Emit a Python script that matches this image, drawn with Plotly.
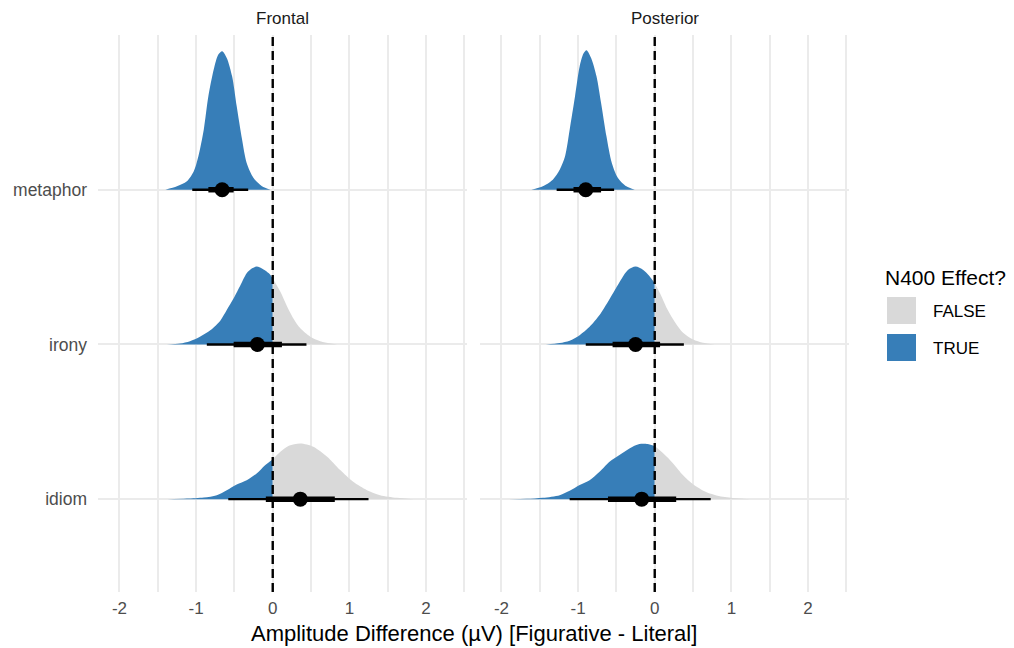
import numpy as np
import plotly.graph_objects as go

# ---------------- data ----------------
regions = ["Frontal", "Posterior"]
conditions = ["idiom", "irony", "metaphor"]
cond_pos = [1, 2, 3]
x_tick_vals = [-2, -1, 0, 1, 2]
x_tick_text = ["-2", "-1", "0", "1", "2"]
legend_labels = ["FALSE", "TRUE"]

# posterior density profiles: x (µV) and scaled height (category units)
frontal_metaphor_x = [-1.40, -1.25, -1.12, -1.03, -0.97, -0.90, -0.84, -0.77, -0.71, -0.66,
                      -0.60, -0.53, -0.47, -0.40, -0.34, -0.25, -0.14, -0.03]
frontal_metaphor_h = [0, 0.022, 0.054, 0.119, 0.216, 0.388, 0.604, 0.777, 0.874, 0.895,
                      0.852, 0.733, 0.539, 0.324, 0.173, 0.076, 0.022, 0]

posterior_metaphor_x = [-1.61, -1.46, -1.33, -1.24, -1.17, -1.11, -1.04, -0.98, -0.93, -0.89,
                        -0.83, -0.76, -0.70, -0.63, -0.56, -0.48, -0.37, -0.26]
posterior_metaphor_h = [0, 0.022, 0.065, 0.129, 0.216, 0.388, 0.604, 0.796, 0.880, 0.902,
                        0.852, 0.733, 0.561, 0.345, 0.173, 0.076, 0.022, 0]

frontal_irony_x = [-1.38, -1.21, -1.08, -0.95, -0.81, -0.68, -0.60, -0.51, -0.42, -0.34, -0.27,
                   -0.21, -0.12, -0.05, 0.0, 0.10, 0.18, 0.27, 0.36, 0.49, 0.62, 0.84]
frontal_irony_h = [0, 0.006, 0.021, 0.050, 0.093, 0.157, 0.222, 0.298, 0.384, 0.460, 0.492,
                   0.503, 0.485, 0.460, 0.427, 0.341, 0.254, 0.168, 0.104, 0.050, 0.021, 0]

posterior_irony_x = [-1.42, -1.24, -1.11, -0.98, -0.85, -0.72, -0.61, -0.52, -0.43, -0.35, -0.25,
                     -0.15, -0.07, 0.0, 0.09, 0.17, 0.26, 0.37, 0.50, 0.63, 0.78]
posterior_irony_h = [0, 0.009, 0.024, 0.060, 0.114, 0.190, 0.276, 0.352, 0.427, 0.481, 0.503,
                     0.481, 0.442, 0.395, 0.309, 0.222, 0.147, 0.076, 0.032, 0.011, 0]

frontal_idiom_x = [-1.37, -1.12, -0.90, -0.73, -0.60, -0.47, -0.34, -0.21, -0.10, 0.0, 0.10,
                   0.21, 0.36, 0.53, 0.71, 0.88, 1.05, 1.23, 1.40, 1.62, 1.84]
frontal_idiom_h = [0, 0.004, 0.011, 0.026, 0.058, 0.095, 0.123, 0.166, 0.220, 0.257, 0.306,
                   0.345, 0.360, 0.339, 0.274, 0.188, 0.112, 0.058, 0.026, 0.009, 0]

posterior_idiom_x = [-1.90, -1.67, -1.46, -1.24, -1.11, -0.98, -0.85, -0.72, -0.59, -0.46, -0.33,
                     -0.20, -0.09, 0.0, 0.11, 0.24, 0.37, 0.50, 0.67, 0.89, 1.24]
posterior_idiom_h = [0, 0.002, 0.009, 0.026, 0.054, 0.091, 0.123, 0.177, 0.242, 0.285, 0.328,
                     0.356, 0.356, 0.343, 0.296, 0.231, 0.155, 0.097, 0.047, 0.015, 0]

# point + interval summaries (order: idiom, irony, metaphor)
frontal_median = [0.36, -0.20, -0.66]
frontal_q66_lo = [-0.09, -0.51, -0.84]
frontal_q66_hi = [0.81, 0.12, -0.51]
frontal_q95_lo = [-0.58, -0.86, -1.05]
frontal_q95_hi = [1.25, 0.44, -0.32]

posterior_median = [-0.17, -0.25, -0.90]
posterior_q66_lo = [-0.61, -0.55, -1.06]
posterior_q66_hi = [0.28, 0.07, -0.70]
posterior_q95_lo = [-1.11, -0.90, -1.28]
posterior_q95_hi = [0.73, 0.38, -0.53]

# ---------------- styling ----------------
BLUE = "#377EB8"
GREY = "#D9D9D9"
GRID = "#EBEBEB"
TICK = "#4D4D4D"
FONT = "Liberation Sans, Arial, sans-serif"

W, H = 1014, 648
L, R, T, B = 98, 849, 35, 592
PW, PH = R - L, B - T
dom1 = [0, (467 - L) / PW]
dom2 = [(480 - L) / PW, 1]

densities = {
    "Frontal": [(frontal_idiom_x, frontal_idiom_h), (frontal_irony_x, frontal_irony_h),
                (frontal_metaphor_x, frontal_metaphor_h)],
    "Posterior": [(posterior_idiom_x, posterior_idiom_h), (posterior_irony_x, posterior_irony_h),
                  (posterior_metaphor_x, posterior_metaphor_h)],
}
intervals = {
    "Frontal": (frontal_median, frontal_q66_lo, frontal_q66_hi, frontal_q95_lo, frontal_q95_hi),
    "Posterior": (posterior_median, posterior_q66_lo, posterior_q66_hi, posterior_q95_lo,
                  posterior_q95_hi),
}

fig = go.Figure()


def add_fill(xs, hs, base, color, xa, ya):
    if len(xs) < 2:
        return
    fig.add_trace(go.Scatter(x=[xs[0], xs[-1]], y=[base, base], mode="lines",
                             line=dict(width=0, color=color), showlegend=False,
                             hoverinfo="skip", xaxis=xa, yaxis=ya))
    fig.add_trace(go.Scatter(x=xs, y=[base + h for h in hs], mode="lines",
                             line=dict(width=0, color=color, shape="spline", smoothing=0.8),
                             fill="tonexty", fillcolor=color, showlegend=False,
                             hoverinfo="skip", xaxis=xa, yaxis=ya))


for ri, reg in enumerate(regions):
    xa = "x" if ri == 0 else "x2"
    ya = "y" if ri == 0 else "y2"
    for ci, pos in enumerate(cond_pos):
        xs = np.array(densities[reg][ci][0], dtype=float)
        hs = np.array(densities[reg][ci][1], dtype=float)
        if xs.max() > 0 and xs.min() < 0:
            h0 = float(np.interp(0.0, xs, hs))
            neg = xs < 0
            pos_ = xs > 0
            bx = list(xs[neg]) + [0.0]
            bh = list(hs[neg]) + [h0]
            gx = [0.0] + list(xs[pos_])
            gh = [h0] + list(hs[pos_])
        elif xs.max() <= 0:
            bx, bh, gx, gh = list(xs), list(hs), [], []
        else:
            bx, bh, gx, gh = [], [], list(xs), list(hs)
        add_fill(bx, bh, pos, BLUE, xa, ya)
        add_fill(gx, gh, pos, GREY, xa, ya)

    med, lo66, hi66, lo95, hi95 = intervals[reg]
    for ci, pos in enumerate(cond_pos):
        fig.add_trace(go.Scatter(x=[lo95[ci], hi95[ci]], y=[pos, pos], mode="lines",
                                 line=dict(color="black", width=2.4), showlegend=False,
                                 hoverinfo="skip", xaxis=xa, yaxis=ya))
        fig.add_trace(go.Scatter(x=[lo66[ci], hi66[ci]], y=[pos, pos], mode="lines",
                                 line=dict(color="black", width=5.5), showlegend=False,
                                 hoverinfo="skip", xaxis=xa, yaxis=ya))
    fig.add_trace(go.Scatter(x=med, y=cond_pos, mode="markers",
                             marker=dict(color="black", size=15, line=dict(width=0)),
                             showlegend=False, hoverinfo="skip", xaxis=xa, yaxis=ya))

    # dashed reference line at zero
    fig.add_shape(type="line", xref=xa, yref=f"{ya} domain", x0=0, x1=0, y0=0, y1=1,
                  line=dict(color="black", width=2.4, dash="9px,5px"), layer="above")

xcommon = dict(range=[-2.28, 2.535], tickvals=x_tick_vals, ticktext=x_tick_text,
               showgrid=True, gridcolor=GRID, gridwidth=2, zeroline=False, showline=False,
               ticks="", tickfont=dict(family=FONT, size=17, color=TICK),
               ticklabelstandoff=4,
               minor=dict(tickvals=[-2.5, -1.5, -0.5, 0.5, 1.5, 2.5], showgrid=True,
                          gridcolor=GRID, gridwidth=1.6))
ycommon = dict(range=[0.4, 4.0], tickvals=cond_pos, ticktext=conditions, showgrid=True,
               gridcolor=GRID, gridwidth=2, zeroline=False, showline=False, ticks="",
               tickfont=dict(family=FONT, size=17.5, color=TICK))

fig.update_layout(
    width=W, height=H,
    margin=dict(l=L, r=W - R, t=T, b=H - B, autoexpand=False),
    plot_bgcolor="white", paper_bgcolor="white",
    font=dict(family=FONT),
    showlegend=False,
    xaxis=dict(domain=dom1, anchor="y", **xcommon),
    xaxis2=dict(domain=dom2, anchor="y2", **xcommon),
    yaxis=dict(domain=[0, 1], anchor="x", ticklabelstandoff=10, **ycommon),
    yaxis2=dict(domain=[0, 1], anchor="x2", matches="y", showticklabels=False,
                **{k: v for k, v in ycommon.items() if k not in ("tickvals", "ticktext")},
                tickvals=cond_pos),
)

# strip titles
for ri, reg in enumerate(regions):
    d = dom1 if ri == 0 else dom2
    fig.add_annotation(x=(d[0] + d[1]) / 2, y=1 + (T - 18) / PH, xref="paper", yref="paper",
                       text=reg, showarrow=False, xanchor="center", yanchor="middle",
                       font=dict(family=FONT, size=17, color="#1A1A1A"))

# x-axis title
fig.add_annotation(x=0.5, y=-(633 - B) / PH, xref="paper", yref="paper",
                   text="Amplitude Difference (µV) [Figurative - Literal]", showarrow=False,
                   xanchor="center", yanchor="middle",
                   font=dict(family=FONT, size=22, color="black"))


# legend (drawn manually to match ggplot keys)
def px_x(px):
    return (px - L) / PW


def px_y(py):
    return (B - py) / PH


fig.add_annotation(x=px_x(883), y=px_y(277), xref="paper", yref="paper",
                   text="N400 Effect?", showarrow=False, xanchor="left", yanchor="middle",
                   font=dict(family=FONT, size=21, color="black"))
legend_colors = [GREY, BLUE]
key_top = [297, 334]
for lab, col, kt in zip(legend_labels, legend_colors, key_top):
    fig.add_shape(type="rect", xref="paper", yref="paper",
                  x0=px_x(887), x1=px_x(916), y0=px_y(kt + 27), y1=px_y(kt),
                  fillcolor=col, line=dict(width=0))
    fig.add_annotation(x=px_x(931), y=px_y(kt + 14), xref="paper", yref="paper",
                       text=lab, showarrow=False, xanchor="left", yanchor="middle",
                       font=dict(family=FONT, size=17, color="black"))

fig.write_html("out.html", config={"displayModeBar": False},
               post_script="document.body.style.margin='0';document.body.style.padding='0';")
